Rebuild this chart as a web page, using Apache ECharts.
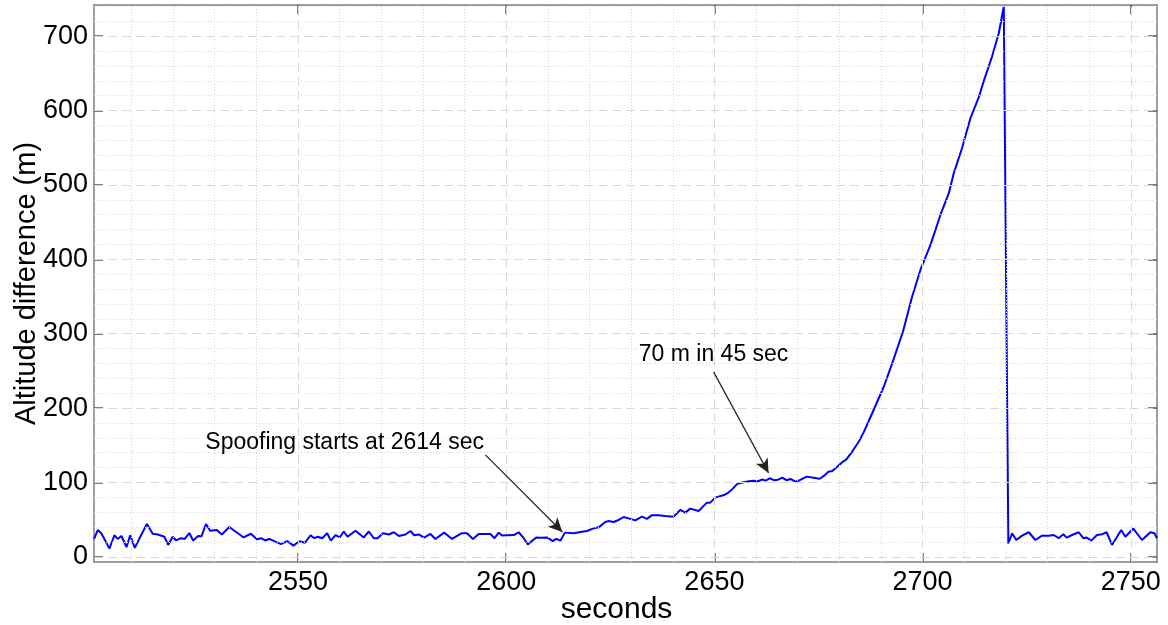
<!DOCTYPE html>
<html>
<head>
<meta charset="utf-8">
<script src="https://cdn.jsdelivr.net/npm/echarts@6/dist/echarts.min.js"></script>
<style>
  html, body { margin: 0; padding: 0; background: #ffffff; }
  #chart { width: 1168px; height: 625px; }
</style>
</head>
<body>
<div id="chart"></div>
<script>
// ---- data ----
const seconds = [
  2501.0, 2501.9, 2502.7, 2503.5, 2504.7, 2505.9, 2506.7, 2507.6, 2508.8, 2509.7,
  2510.8, 2512.3, 2513.7, 2515.1, 2516.3, 2517.9, 2518.8, 2519.9, 2520.7, 2521.9,
  2522.8, 2523.9, 2524.8, 2526.0, 2526.8, 2527.9, 2528.9, 2530.5, 2531.7, 2533.5,
  2534.7, 2535.5, 2536.9, 2538.7, 2540.1, 2541.1, 2542.1, 2543.1, 2544.3, 2545.9,
  2547.4, 2548.9, 2550.3, 2551.7, 2553.0, 2553.9, 2554.7, 2555.8, 2557.0, 2557.9,
  2559.0, 2560.0, 2561.0, 2561.9, 2563.8, 2565.8, 2567.0, 2568.2, 2569.1, 2570.4,
  2571.8, 2573.0, 2574.2, 2575.8, 2577.0, 2577.9, 2579.0, 2580.3, 2581.8, 2583.0,
  2585.1, 2587.0, 2589.2, 2590.6, 2592.0, 2593.4, 2596.2, 2597.2, 2598.2, 2599.0,
  2601.8, 2603.0, 2604.2, 2605.2, 2607.2, 2608.2, 2609.8, 2611.2, 2612.0, 2613.0,
  2614.1, 2616.2, 2618.2, 2619.4, 2620.8, 2622.2, 2623.8, 2624.5, 2625.8, 2627.0,
  2628.2, 2629.8, 2631.0, 2632.6, 2633.8, 2635.0, 2636.6, 2638.2, 2640.2, 2641.8,
  2643.0, 2644.2, 2646.2, 2648.2, 2649.0, 2650.2, 2652.3, 2653.3, 2654.3, 2655.5,
  2656.7, 2658.3, 2659.5, 2660.5, 2661.5, 2662.3, 2663.3, 2664.3, 2665.3, 2666.3,
  2667.3, 2668.3, 2669.4, 2670.5, 2672.2, 2673.5, 2675.3, 2676.3, 2677.4, 2678.3,
  2679.5, 2680.9, 2681.7, 2683.1, 2684.7, 2685.9, 2687.9, 2690.7, 2692.7, 2695.3,
  2697.5, 2699.5, 2701.9, 2704.3, 2706.3, 2707.5, 2709.5, 2711.5, 2713.5, 2714.7,
  2716.7, 2718.3, 2719.5, 2720.6, 2721.5, 2722.5, 2723.9, 2725.5, 2727.1, 2728.7,
  2730.3, 2731.5, 2732.7, 2733.8, 2734.6, 2735.9, 2737.5, 2738.6, 2739.4, 2740.5,
  2741.9, 2743.1, 2744.2, 2745.5, 2747.7, 2748.7, 2750.6, 2752.7, 2754.7, 2755.7,
  2756.3
];
const altitudeDiff = [
  24, 36, 32, 24, 11, 29, 24, 28, 13, 29,
  12, 29, 44, 31, 30, 27, 16, 27, 22, 25,
  24, 32, 22, 28, 27.5, 44, 35, 36, 30, 40,
  35, 32, 26, 31, 23.5, 25, 22, 24, 21, 17,
  21, 15, 21, 19, 29, 25, 27, 25, 31.6, 21.7,
  29, 26, 34, 27, 35, 26, 34, 25, 25, 31.6,
  30, 33, 28, 30, 34.7, 29, 30, 25.7, 30.7, 24,
  32.5, 24, 31.6, 31.6, 24, 30.7, 30.7, 25, 32.5, 28.5,
  29.3, 33, 25, 16.7, 26, 25.7, 26, 21, 24, 21.7,
  32.5, 31.6, 33.8, 34.7, 37.9, 39.6, 46.8, 48, 46.8, 49.5,
  53.5, 51, 49, 54, 51, 56, 56, 55, 54, 63,
  59.4, 64.8, 61.6, 72.8, 72.8, 79.6, 83, 86, 91, 98,
  100, 101.6, 102.4, 101.6, 104, 102.4, 105.6, 103, 103.7, 106.5,
  103, 104.7, 101, 103, 107.8, 106.5, 105, 108.7, 114.5, 115.5,
  121, 128, 131, 141.5, 155, 168, 193, 229, 260, 303,
  350, 386, 419.5, 460, 489, 516, 550, 590, 618, 640,
  673, 704, 740, 18, 31.6, 22.6, 28.4, 33, 22.6, 28.4,
  28.4, 29.3, 25, 30.2, 25.8, 29.3, 33, 25, 25.8, 21.7,
  29.3, 30.2, 33, 15.9, 36, 27, 38, 22.6, 33, 31.6,
  25
];
const xTickLabels = [2550, 2600, 2650, 2700, 2750];
const yTickLabels = [0, 100, 200, 300, 400, 500, 600, 700];
const xMinorGrid = [2510, 2520, 2530, 2540, 2560, 2570, 2580, 2590, 2610, 2620, 2630, 2640,
                    2660, 2670, 2680, 2690, 2710, 2720, 2730, 2740];
const yMinorGrid = [20, 40, 60, 80, 120, 140, 160, 180, 220, 240, 260, 280, 320, 340, 360, 380,
                    420, 440, 460, 480, 520, 540, 560, 580, 620, 640, 660, 680, 720, 740];
const xRange = [2501, 2756.3];
const yRange = [-7, 742];
const annotations = [
  { text: 'Spoofing starts at 2614 sec', at: [2561.2, 153], from: [2595.0, 137], to: [2613.5, 33.4] },
  { text: '70 m in 45 sec', at: [2649.8, 271.6], from: [2649.8, 248.7], to: [2663.0, 112.8] }
];
// ----------------------------------------------

const FONT = '"Liberation Sans", Arial, Helvetica, sans-serif';
const lineData = seconds.map((s, i) => [s, altitudeDiff[i]]);

const majorStyle = { color: '#d9d9d9', width: 1, type: [9, 5] };
const minorStyle = { color: '#d6d6d6', width: 1, type: [1, 2] };

const gridMarks = [];
xMinorGrid.forEach(v => gridMarks.push({ xAxis: v, lineStyle: minorStyle }));
yMinorGrid.forEach(v => gridMarks.push({ yAxis: v, lineStyle: minorStyle }));
xTickLabels.forEach(v => gridMarks.push({ xAxis: v, lineStyle: majorStyle }));
yTickLabels.forEach(v => gridMarks.push({ yAxis: v, lineStyle: majorStyle }));

const axisLineStyle = { color: '#7f7f7f', width: 1.5 };
const tickStyle = { color: '#555555', width: 1.5 };

function xAxisCfg(pos, showLabels) {
  return {
    type: 'value', position: pos, min: xRange[0], max: xRange[1],
    nameMoveOverlap: false,
    axisLine: { show: true, onZero: false, lineStyle: axisLineStyle },
    axisTick: { show: true, inside: true, length: 9, customValues: xTickLabels, lineStyle: tickStyle },
    axisLabel: { show: showLabels, customValues: xTickLabels, color: '#000', fontFamily: FONT, fontSize: 27, margin: 7,
                 formatter: v => String(v) },
    splitLine: { show: false }
  };
}
function yAxisCfg(pos, showLabels) {
  return {
    type: 'value', position: pos, min: yRange[0], max: yRange[1],
    nameMoveOverlap: false,
    axisLine: { show: true, onZero: false, lineStyle: axisLineStyle },
    axisTick: { show: true, inside: true, length: 9, customValues: yTickLabels, lineStyle: tickStyle },
    axisLabel: { show: showLabels, customValues: yTickLabels, color: '#000', fontFamily: FONT, fontSize: 27, margin: 6,
                 formatter: v => String(v) },
    splitLine: { show: false }
  };
}

const xBottom = xAxisCfg('bottom', true);
xBottom.name = 'seconds';
xBottom.nameLocation = 'middle';
xBottom.nameGap = 33;
xBottom.nameTextStyle = { color: '#000', fontFamily: FONT, fontSize: 30, padding: [0, 18, 0, 0] };
const yLeft = yAxisCfg('left', true);
yLeft.name = 'Altitude difference (m)';
yLeft.nameLocation = 'middle';
yLeft.nameGap = 53;
yLeft.nameTextStyle = { color: '#000', fontFamily: FONT, fontSize: 29 };

const option = {
  animation: false,
  backgroundColor: '#ffffff',
  grid: { left: 94, right: 11, top: 5, bottom: 63, containLabel: false, outerBoundsMode: 'none' },
  xAxis: [xBottom, xAxisCfg('top', false)],
  yAxis: [yLeft, yAxisCfg('right', false)],
  series: [
    {
      name: 'gridlines', type: 'line', data: [], z: 1, silent: true,
      markLine: { silent: true, symbol: ['none', 'none'], label: { show: false }, data: gridMarks, animation: false }
    },
    {
      name: 'altitude', type: 'line', data: lineData, z: 3,
      showSymbol: false, symbol: 'none',
      lineStyle: { color: '#0000ff', width: 2 },
      markLine: {
        silent: true, symbol: ['none', 'arrow'], symbolSize: [10, 14],
        label: { show: false },
        lineStyle: { color: '#222222', width: 1.2, type: 'solid' },
        data: annotations.map(a => [{ coord: a.from }, { coord: a.to }]),
        animation: false
      },
      markPoint: {
        silent: true, symbol: 'circle', symbolSize: 0,
        label: { show: true, position: 'inside', color: '#000', fontFamily: FONT, fontSize: 23,
                 formatter: p => p.name },
        data: annotations.map(a => ({ name: a.text, coord: a.at })),
        animation: false
      }
    }
  ]
};

const chart = echarts.init(document.getElementById('chart'), null, { renderer: 'canvas' });
chart.setOption(option);
</script>
</body>
</html>
